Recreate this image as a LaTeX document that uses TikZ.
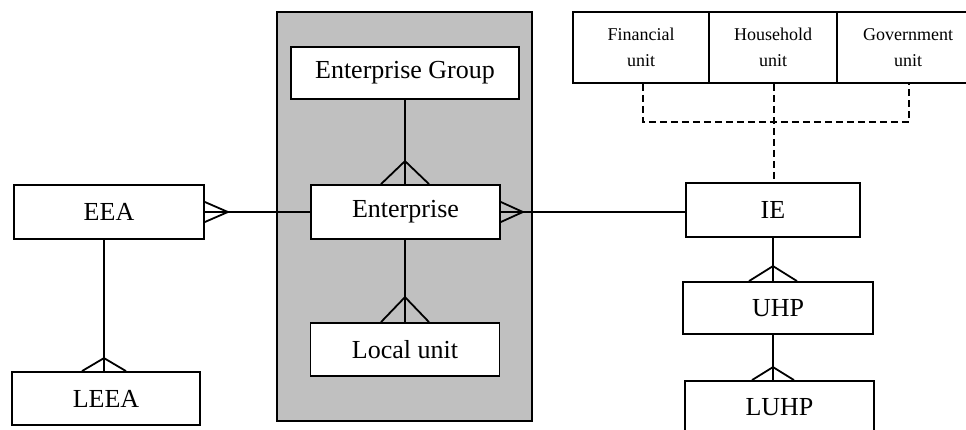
\documentclass[tikz,border=0pt]{standalone}
\usepackage{fontspec}
\setmainfont{Liberation Serif}
\usetikzlibrary{calc}
\definecolor{boxgray}{RGB}{192,192,192}
\tikzset{
  ent/.style={draw, fill=white, line width=1.8pt, inner sep=0pt, font=\fontsize{26}{30}\selectfont, anchor=center},
  small/.style={draw, fill=white, line width=1.8pt, inner sep=0pt, align=center, font=\fontsize{18}{26}\selectfont, anchor=center},
  conn/.style={line width=1.8pt},
  dashconn/.style={line width=1.8pt, dash pattern=on 7pt off 4pt},
}
\begin{document}
\begin{tikzpicture}[x=1pt,y=-1pt]
\useasboundingbox (0,0) rectangle (966,430);
% gray group
\node[draw, fill=boxgray, line width=1.8pt, minimum width=255pt, minimum height=409pt, inner sep=0pt] (grp) at (404.5,216.5) {};
% entities
\node[ent, minimum width=228pt, minimum height=52pt] (eg) at (405,73) {Enterprise Group};
\node[ent, minimum width=189pt, minimum height=54pt] (enterp) at (405.5,212) {Enterprise};
\node[ent, minimum width=189pt, minimum height=53pt] (local) at (405,349.5) {Local unit};
\node[ent, minimum width=190pt, minimum height=54pt] (eea) at (109,212) {EEA};
\node[ent, minimum width=188pt, minimum height=53pt] (leea) at (106,398.5) {LEEA};
\node[ent, minimum width=174pt, minimum height=54pt] (ie) at (773,210) {IE};
\node[ent, minimum width=190pt, minimum height=52pt] (uhp) at (778,308) {UHP};
\node[ent, minimum width=189pt, minimum height=52pt] (luhp) at (779.5,407) {LUHP};
% sector units
\node[small, minimum width=136pt, minimum height=71pt] (fin) at (641,47.5) {Financial\\unit};
\node[small, minimum width=128pt, minimum height=71pt] (hh) at (773,47.5) {Household\\unit};
\node[small, minimum width=142pt, minimum height=71pt] (gov) at (908,47.5) {Government\\unit};
% dashed links
\coordinate (dj) at (774,122);
\coordinate (finS) at ($(fin.south)+(2,0)$);
\coordinate (govS) at ($(gov.south)+(1,0)$);
\coordinate (hhS) at ($(hh.south)+(1,0)$);
\coordinate (ieN) at (hhS |- ie.north);
\draw[dashconn] (finS) |- (dj) -| (govS);
\draw[dashconn] (hhS) -- (ieN);
% EEA -- Enterprise
\coordinate (eeaA) at ($(eea.east)+(23,0)$);
\draw[conn] ($(eea.east)+(0,-10)$) -- (eeaA) -- ($(eea.east)+(0,10)$);
\draw[conn] (eea.east) -- (eeaA) -- (enterp.west);
% Enterprise -- IE
\coordinate (entA) at ($(enterp.east)+(22,0)$);
\draw[conn] ($(enterp.east)+(0,-10)$) -- (entA) -- ($(enterp.east)+(0,10)$);
\draw[conn] (enterp.east) -- (entA) -- (entA -| ie.west);
% Enterprise Group -- Enterprise
\draw[conn] (eg.south) -- (eg.south |- enterp.north);
\draw[conn] ($(eg.south |- enterp.north)+(-24,0)$) -- ($(eg.south |- enterp.north)+(0,-23)$) -- ($(eg.south |- enterp.north)+(24,0)$);
% Enterprise -- Local unit
\draw[conn] (eg.south |- enterp.south) -- (eg.south |- local.north);
\draw[conn] ($(eg.south |- local.north)+(-24,0)$) -- ($(eg.south |- local.north)+(0,-25)$) -- ($(eg.south |- local.north)+(24,0)$);
% EEA -- LEEA
\coordinate (leeaT) at ($(leea.north)+(-2,0)$);
\draw[conn] (leeaT |- eea.south) -- (leeaT);
\draw[conn] ($(leeaT)+(-22,0)$) -- ($(leeaT)+(0,-13)$) -- ($(leeaT)+(22,0)$);
% IE -- UHP
\coordinate (uhpT) at (ie.south |- uhp.north);
\draw[conn] (ie.south) -- (uhpT);
\draw[conn] ($(uhpT)+(-24,0)$) -- ($(uhpT)+(0,-15)$) -- ($(uhpT)+(24,0)$);
% UHP -- LUHP
\coordinate (luhpT) at (ie.south |- luhp.north);
\draw[conn] (ie.south |- uhp.south) -- (luhpT);
\draw[conn] ($(luhpT)+(-21,0)$) -- ($(luhpT)+(0,-13)$) -- ($(luhpT)+(21,0)$);
\end{tikzpicture}
\end{document}
